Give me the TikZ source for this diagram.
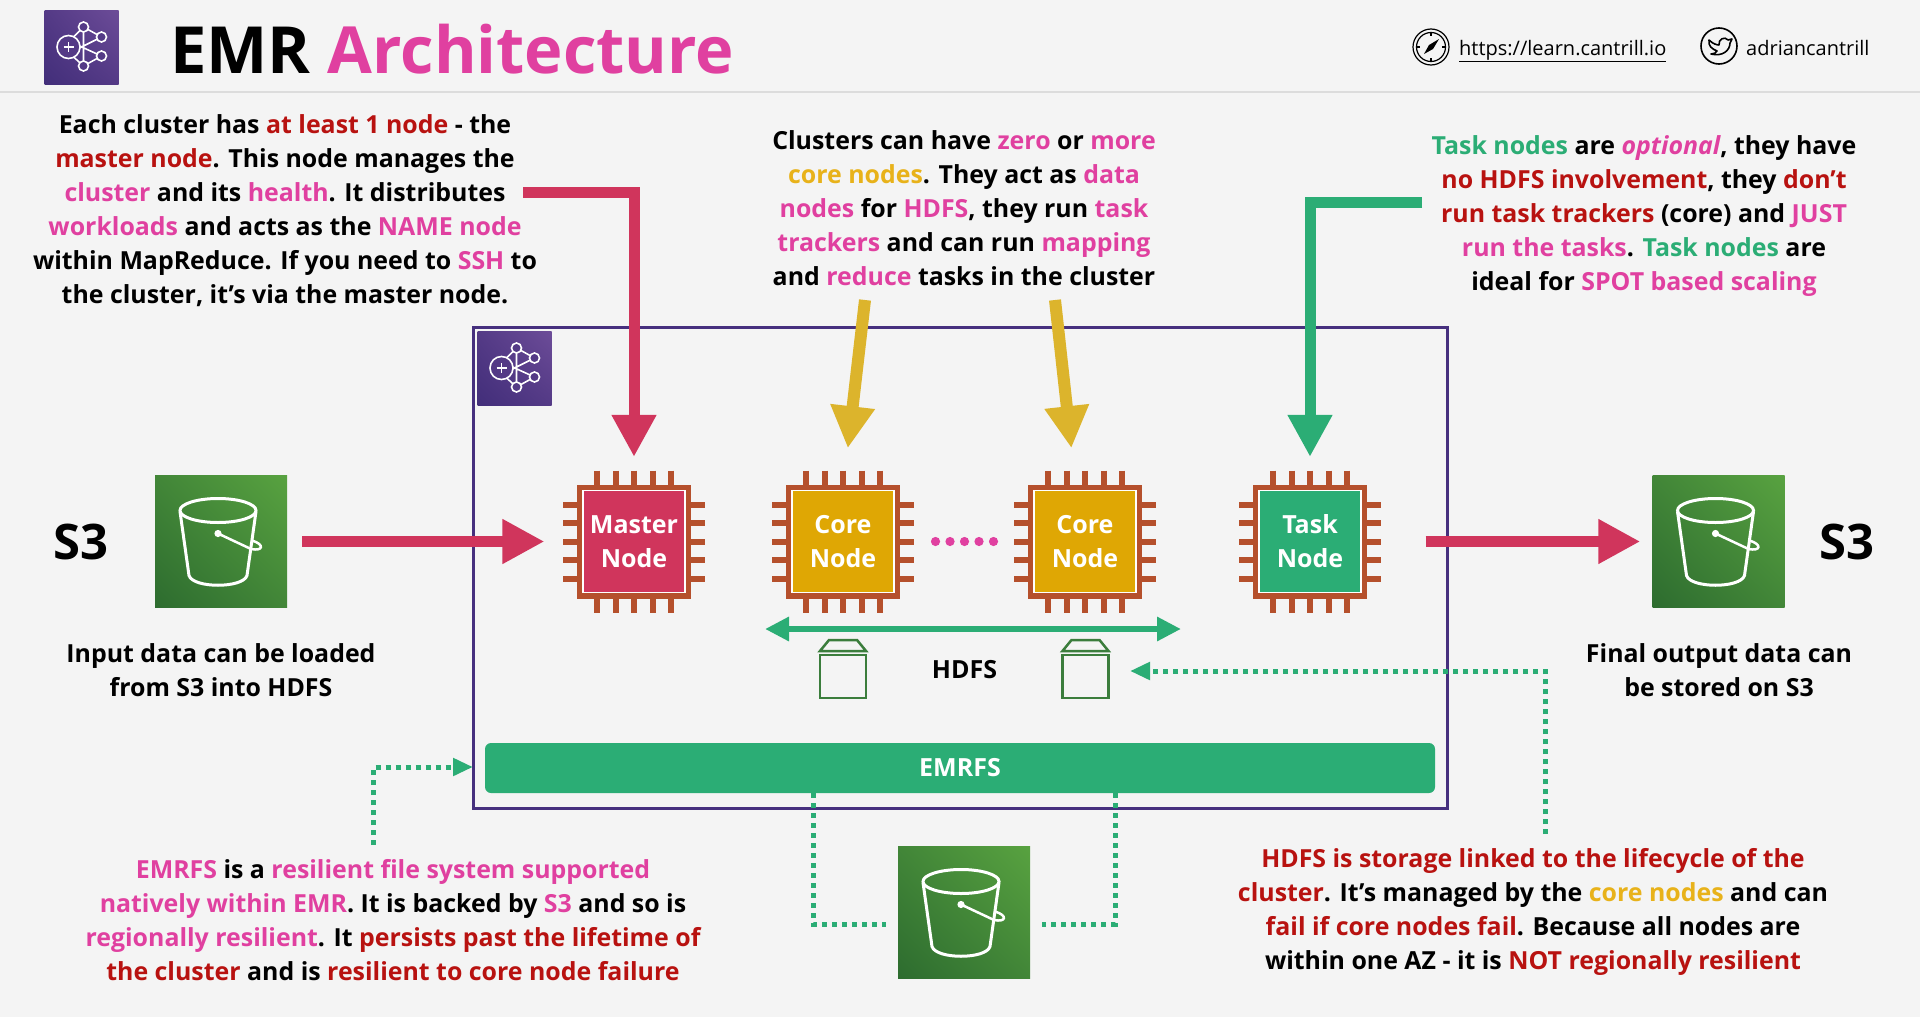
\documentclass[tikz,border=0pt]{standalone}
\usepackage{fontspec}
\setmainfont{Open Sans}
\usetikzlibrary{arrows.meta,shadings}
\definecolor{pagebg}{HTML}{F4F4F4}
\definecolor{headline}{HTML}{DCDCDC}
\definecolor{emrred}{HTML}{B81210}
\definecolor{emrpink}{HTML}{E040A0}
\definecolor{emrgold}{HTML}{E8B21A}
\definecolor{emrgreen}{HTML}{2BAD75}
\definecolor{emrrose}{HTML}{D0355C}
\definecolor{emrmustard}{HTML}{DCB42C}
\definecolor{corefill}{HTML}{DFA704}
\definecolor{chipedge}{HTML}{B5502C}
\definecolor{clusterline}{HTML}{46307E}
\definecolor{bingreen}{HTML}{3B7D3C}
\definecolor{buckhi}{RGB}{88,162,64}
\definecolor{buckmid}{RGB}{66,134,56}
\definecolor{bucklo}{RGB}{45,108,47}
\definecolor{logohi}{RGB}{108,76,152}
\definecolor{logomid}{RGB}{84,58,134}
\definecolor{logolo}{RGB}{66,46,122}
\newcommand{\redt}[1]{\textcolor{emrred}{#1}}
\newcommand{\pinkt}[1]{\textcolor{emrpink}{#1}}
\newcommand{\goldt}[1]{\textcolor{emrgold}{#1}}
\newcommand{\greent}[1]{\textcolor{emrgreen}{#1}}
\tikzset{
  note/.style={align=center,font=\fontsize{24.9}{34}\selectfont\bfseries,text=black},
  chipcore/.style={draw=white,line width=1.2pt,minimum size=102pt,inner sep=0pt,align=center,
    text=white,font=\fontsize{25}{34}\selectfont\bfseries},
  chippin/.style={chipedge,line width=6pt},
  bucketbox/.style={minimum size=132pt,inner sep=0pt,
    upper right=buckhi,lower left=bucklo,upper left=buckmid,lower right=buckmid},
  logobox/.style={minimum size=74pt,inner sep=0pt,
    upper right=logohi,lower left=logolo,upper left=logomid,lower right=logomid},
  redarrow/.style={emrrose,line width=11pt,-{Triangle[length=42pt,width=42pt]}},
  greenarrow/.style={emrgreen,line width=11pt,-{Triangle[length=42pt,width=42pt]}},
  goldarrow/.style={emrmustard,line width=12pt,-{Triangle[length=42pt,width=42pt]}},
  dotline/.style={emrgreen,line width=5pt,dash pattern=on 5pt off 5pt},
  dotarrow/.style={dotline,-{Triangle[length=20pt,width=17pt,sep=0pt]}},
}
% one chip with its pins behind the named centre node
\newcommand{\chipnode}[4]{
  \begin{scope}[shift={(#2,541.5)}]
    \foreach \p in {-37,-18.5,0,18.5,37} {
      \draw[chippin] (\p,-71) -- (\p,71);
      \draw[chippin] (-71,\p) -- (71,\p);
    }
    \fill[chipedge] (-57,-57) rectangle (57,57);
  \end{scope}
  \node[chipcore,fill=#3] (#1) at (#2,541.5) {#4};
}
\newcommand{\bucketnode}[3]{
  \node[bucketbox] (#1) at (#2,#3) {};
  \begin{scope}[shift={(#2,#3)},white,line width=3pt]
    \draw (-3,-31) ellipse [x radius=38,y radius=12];
    \draw (-41,-30) -- (-32,34) .. controls (-28,47) and (22,47) .. (26,34) -- (35,-30);
    \draw[line width=2.5pt] (-3,-8) -- (30,7.5) .. controls (42,10) and (44,3) .. (31,-1);
    \fill (-3,-8) circle (3.6);
  \end{scope}
}
\newcommand{\clusterlogo}[3]{
  \node[logobox] (#1) at (#2,#3) {};
  \begin{scope}[shift={(#2,#3)},white,line width=1.6pt]
    \draw (2,-20) -- (2,19) (2,-20) -- (20,-10) (20,9) -- (2,19) (2,-20) -- (-9,-9)
      (2,19) -- (-9,9) (20,-10) -- (-2,1) (20,9) -- (-2,-1);
    \foreach \cx/\cy in {2/-20,20/-10,20/9,2/19} {
      \draw[fill=logomid] (\cx,\cy) circle (5);
    }
    \draw[fill=logomid] (-13,0) circle (11.5);
    \draw (-18,0) -- (-8,0) (-13,-5) -- (-13,5);
  \end{scope}
}
\newcommand{\binshape}[1]{
  \begin{scope}[shift={(#1,0)},bingreen,line width=2.5pt]
    \draw (-23,698) rectangle (23,655);
    \draw (-23,651) -- (-14,640) -- (14,640) -- (23,651) -- cycle;
  \end{scope}
}
\begin{document}
\begin{tikzpicture}[x=1pt,y=-1pt]
  \useasboundingbox (0,0) rectangle (1920,1017);
  \fill[pagebg] (0,0) rectangle (1920,1017);
  \draw[headline,line width=1.5pt] (0,92) -- (1920,92);
  % header
  \clusterlogo{toplogo}{81.5}{47}
  \node[anchor=base west,inner sep=0pt,font=\fontsize{65}{65}\selectfont\bfseries] (title) at (170,73)
    {EMR \pinkt{Architecture}};
  \draw[black,line width=1.2pt] (1431,47) circle (18) (1431,47) circle (14.5);
  \draw[black,line width=1.2pt] (1431,32.5) -- (1431,36) (1431,58) -- (1431,61.5) (1416.5,47) -- (1420,47) (1442,47) -- (1445.5,47);
  \fill[black] (1424,54) -- (1429,45) -- (1439,39) -- (1433,49) -- cycle;
  \draw[black,line width=1.6pt] (1719,46) circle (18);
  \draw[black,line width=1.6pt,line join=round] (1709,40) .. controls (1713,44) and (1717,45) .. (1719,45)
    .. controls (1718,39) and (1725,36) .. (1728,40) -- (1732,39) -- (1730,43)
    .. controls (1730,50) and (1723,57) .. (1711,54) .. controls (1714,54) and (1716,53) .. (1717,51)
    .. controls (1712,49) and (1708,46) .. (1709,40) -- cycle;
  \node[anchor=base west,inner sep=0pt,font=\fontsize{20}{20}\selectfont] (website) at (1459,55)
    {\underline{https://learn.cantrill.io}};
  \node[anchor=base west,inner sep=0pt,font=\fontsize{20}{20}\selectfont] (twitter) at (1746,55)
    {adriancantrill};
  % cluster
  \draw[clusterline,line width=3pt] (473,327) rectangle (1447,808);
  \coordinate (clusterw) at (473,767);
  \clusterlogo{innerlogo}{514.5}{368}
  \node[fill=emrgreen,rounded corners=6pt,minimum width=950pt,minimum height=50pt,inner sep=0pt,
    text=white,font=\fontsize{25}{30}\selectfont\bfseries] (emrfs) at (960,768) {EMRFS};
  \chipnode{master}{634}{emrrose}{Master\\Node}
  \chipnode{corea}{843}{corefill}{Core\\Node}
  \chipnode{coreb}{1085}{corefill}{Core\\Node}
  \chipnode{task}{1310}{emrgreen}{Task\\Node}
  \foreach \dx in {935.5,950,964.5,979,993.5} {
    \fill[emrpink] (\dx,541.5) circle (4.6);
  }
  % hdfs
  \coordinate (hdfsl) at (765,629);
  \coordinate (hdfsr) at (1181,629);
  \draw[emrgreen,line width=6pt,{Triangle[length=24pt,width=23pt]}-{Triangle[length=24pt,width=23pt]}] (hdfsl) -- (hdfsr);
  \binshape{843}
  \binshape{1085.5}
  \node[font=\fontsize{25}{30}\selectfont\bfseries] (hdfs) at (964.5,670) {HDFS};
  % s3
  \bucketnode{s3in}{221}{541.5}
  \bucketnode{s3out}{1718.5}{541.5}
  \bucketnode{s3fs}{964}{912.5}
  \node[font=\fontsize{49}{49}\selectfont\bfseries] (sthreea) at (81,542) {S3};
  \node[font=\fontsize{49}{49}\selectfont\bfseries] (sthreeb) at (1847,542) {S3};
  \node[note] (innote) at (221,670) {Input data can be loaded\\from S3 into HDFS};
  \node[note] (outnote) at (1719,670) {Final output data can\\be stored on S3};
  % notes
  \node[note] (masternote) at (285,211) {Each cluster has \redt{at least 1 node} - the\\
    \redt{master node}. This node manages the\\
    \pinkt{cluster} and its \pinkt{health}. It distributes\\
    \pinkt{workloads} and acts as the \pinkt{NAME node}\\
    within MapReduce. If you need to \pinkt{SSH} to\\
    the cluster, it’s via the master node.};
  \node[note] (corenote) at (964,208) {Clusters can have \pinkt{zero} or \pinkt{more}\\
    \goldt{core nodes}. They act as \pinkt{data}\\
    \pinkt{nodes} for \pinkt{HDFS}, they run \pinkt{task}\\
    \pinkt{trackers} and can run \pinkt{mapping}\\
    and \pinkt{reduce} tasks in the cluster};
  \node[note] (tasknote) at (1644,216) {\greent{Task nodes} are \pinkt{\itshape optional}, they have\\
    \redt{no HDFS involvement}, they \redt{don’t}\\
    \redt{run task trackers} (core) and \pinkt{JUST}\\
    \pinkt{run the tasks}. \greent{Task nodes} are\\
    ideal for \pinkt{SPOT based scaling}};
  \node[note] (emrfsnote) at (393,920.5) {\pinkt{EMRFS} is a \pinkt{resilient file system supported}\\
    \pinkt{natively within EMR}. It is backed by \pinkt{S3} and so is\\
    \pinkt{regionally resilient}. It \redt{persists past the lifetime of}\\
    \redt{the cluster} and is \redt{resilient to core node failure}};
  \node[note] (hdfsnote) at (1533,911.5) {\redt{HDFS is storage linked to the lifecycle of the}\\
    \redt{cluster}. It’s managed by the \goldt{core nodes} and can\\
    \redt{fail if core nodes fail}. Because all nodes are\\
    within one AZ - it is \redt{NOT regionally resilient}};
  % connectors
  \coordinate (masterfrom) at (523,192);
  \coordinate (taskfrom) at (1422,202);
  \coordinate (coreafrom) at (865,300);
  \coordinate (corebfrom) at (1055,300);
  \coordinate (hdfsfrom) at (1545,834);
  \coordinate (emrfsfrom) at (373.5,845);
  \draw[redarrow,shorten >=33pt] (masterfrom) -| (master.north);
  \draw[greenarrow,shorten >=33pt] (taskfrom) -| (task.north);
  \draw[goldarrow,shorten >=42pt] (coreafrom) -- (corea.north);
  \draw[goldarrow,shorten >=42pt] (corebfrom) -- ([xshift=-9pt]coreb.north);
  \draw[redarrow,shorten <=15pt,shorten >=38pt] (s3in) -- (master);
  \draw[redarrow,shorten <=64pt,shorten >=12pt] (task) -- (s3out);
  \draw[dotarrow] (hdfsfrom) |- (1130,671);
  \draw[dotarrow] (emrfsfrom) |- (clusterw);
  \draw[dotline] (813,793) |- (886,924);
  \draw[dotline] (1115,793) |- (1042,924);
\end{tikzpicture}
\end{document}
